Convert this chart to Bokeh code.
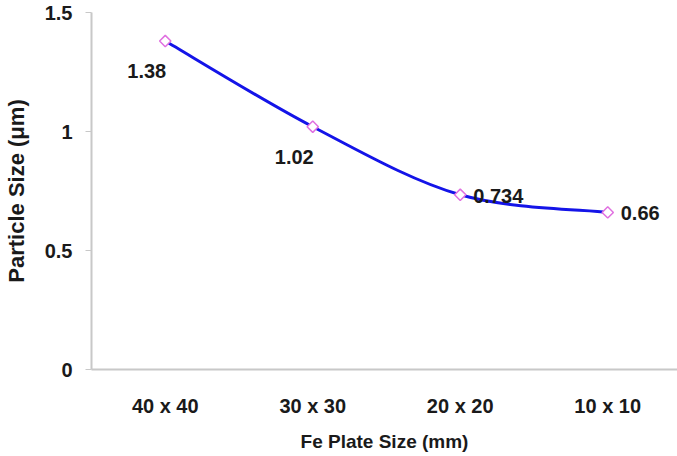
import math
from bokeh.plotting import figure
from bokeh.models import ColumnDataSource, Range1d, FixedTicker
from bokeh.core.properties import value
from bokeh.embed import file_html
from bokeh.resources import INLINE

# ---- data ----
plate_sizes = ["40 x 40", "30 x 30", "20 x 20", "10 x 10"]
particle_size = [1.38, 1.02, 0.734, 0.66]
value_labels = ["1.38", "1.02", "0.734", "0.66"]
y_ticks = [0, 0.5, 1, 1.5]
y_tick_labels = ["0", "0.5", "1", "1.5"]

FONT = "Liberation Sans"
xs = [i + 0.5 for i in range(len(plate_sizes))]

p = figure(width=677, height=456, output_backend="svg", toolbar_location=None,
           x_range=Range1d(0, 3.973), y_range=Range1d(0, 1.5))
p.min_border_left = 89
p.min_border_right = 0
p.min_border_top = 12
p.min_border_bottom = 87
p.outline_line_color = None
p.xgrid.visible = False
p.ygrid.visible = False
p.background_fill_color = "white"
p.border_fill_color = "white"

# smoothed line (Catmull-Rom style Bezier through the data points)
n = len(xs)
def pt(i):
    i = max(0, min(n - 1, i))
    return xs[i], particle_size[i]
bz = dict(x0=[], y0=[], x1=[], y1=[], cx0=[], cy0=[], cx1=[], cy1=[])
for i in range(n - 1):
    xa, ya = pt(i - 1); xb, yb = pt(i); xc, yc = pt(i + 1); xd, yd = pt(i + 2)
    bz["x0"].append(xb); bz["y0"].append(yb)
    bz["x1"].append(xc); bz["y1"].append(yc)
    bz["cx0"].append(xb + (xc - xa) / 6); bz["cy0"].append(yb + (yc - ya) / 6)
    bz["cx1"].append(xc - (xd - xb) / 6); bz["cy1"].append(yc - (yd - yb) / 6)
p.bezier(x0="x0", y0="y0", x1="x1", y1="y1", cx0="cx0", cy0="cy0", cx1="cx1", cy1="cy1",
         source=ColumnDataSource(bz), line_color="#1414e8", line_width=3)

src = ColumnDataSource(dict(x=xs, y=particle_size, lab=value_labels))
p.scatter("x", "y", source=src, marker="square", angle=math.pi / 4, size=8,
          fill_color="white", line_color="#e070e0", line_width=1.5)

# labels: first two below-left, last two to the right
lsrc1 = ColumnDataSource(dict(x=xs[:2], y=particle_size[:2], lab=value_labels[:2]))
lsrc2 = ColumnDataSource(dict(x=xs[2:], y=particle_size[2:], lab=value_labels[2:]))
p.text("x", "y", text="lab", source=lsrc1, text_align="right", text_baseline="middle",
       y_offset=30, x_offset=1, text_font=value(FONT), text_font_style="bold",
       text_font_size="20px", text_color="#1a1a1a")
p.text("x", "y", text="lab", source=lsrc2, text_align="left", text_baseline="middle",
       y_offset=1, x_offset=13, text_font=value(FONT), text_font_style="bold",
       text_font_size="20px", text_color="#1a1a1a")

# x axis
xa_ = p.xaxis[0]
xa_.ticker = FixedTicker(ticks=xs)
xa_.major_label_overrides = {x: s for x, s in zip(xs, plate_sizes)}
xa_.major_tick_out = 0
xa_.major_tick_in = 0
xa_.minor_tick_out = 0
xa_.minor_tick_in = 0
xa_.axis_line_color = "#c8c8c8"
xa_.axis_line_width = 2
xa_.major_label_standoff = 25
xa_.major_label_text_font = FONT
xa_.major_label_text_font_style = "bold"
xa_.major_label_text_font_size = "20px"
xa_.major_label_text_color = "#1a1a1a"
xa_.axis_label = "Fe Plate Size (mm)"
xa_.axis_label_text_font = FONT
xa_.axis_label_text_font_style = "bold"
xa_.axis_label_text_font_size = "19px"
xa_.axis_label_text_color = "#1a1a1a"
xa_.axis_label_standoff = 11

# y axis
ya_ = p.yaxis[0]
ya_.ticker = FixedTicker(ticks=y_ticks)
ya_.major_label_overrides = {t: s for t, s in zip(y_ticks, y_tick_labels)}
ya_.major_tick_out = 6
ya_.major_tick_in = 0
ya_.minor_tick_out = 0
ya_.minor_tick_in = 0
ya_.major_tick_line_color = "#c8c8c8"
ya_.axis_line_color = "#c8c8c8"
ya_.axis_line_width = 2
ya_.major_label_standoff = 13
ya_.major_label_text_font = FONT
ya_.major_label_text_font_style = "bold"
ya_.major_label_text_font_size = "20px"
ya_.major_label_text_color = "#1a1a1a"
ya_.axis_label = "Particle Size (μm)"
ya_.axis_label_text_font = FONT
ya_.axis_label_text_font_style = "bold"
ya_.axis_label_text_font_size = "22px"
ya_.axis_label_text_color = "#1a1a1a"
ya_.axis_label_standoff = 13

open("out.html", "w").write(file_html(p, INLINE))
